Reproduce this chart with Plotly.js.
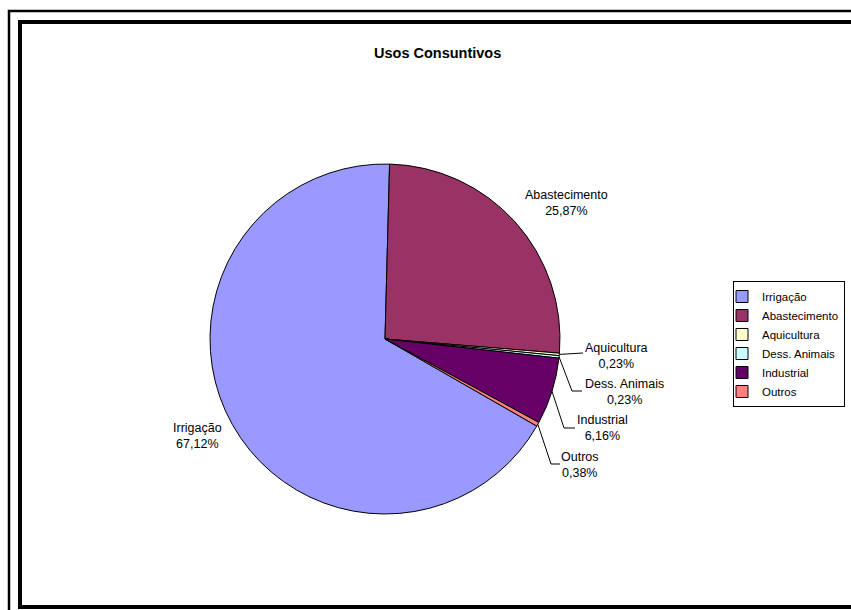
<!DOCTYPE html>
<html>
<head>
<meta charset="utf-8">
<script src="https://cdn.plot.ly/plotly-3.0.1.min.js"></script>
<style>html,body{margin:0;padding:0;background:#fff;overflow:hidden;}#chart{width:851px;height:610px;}</style>
</head>
<body>
<div id="chart"></div>
<script>
// ---- data ----
const categories = ["Irrigação", "Abastecimento", "Aquicultura", "Dess. Animais", "Industrial", "Outros"];
const values = [67.12, 25.87, 0.23, 0.23, 6.16, 0.38];
const colors = ["#9999FF", "#993366", "#FFFFCC", "#CCFFFF", "#660066", "#FF8080"];
const titleText = "Usos Consuntivos";

// ---- layout helpers (pixel -> paper) ----
const W = 851, H = 610;
const px = x => x / W;
const py = y => 1 - y / H;

// pie geometry
const pieLeft = 210, pieRight = 560, pieTop = 164, pieBottom = 514;
const cx = (pieLeft + pieRight) / 2, cy = (pieTop + pieBottom) / 2;
const R = (pieRight - pieLeft) / 2;

const total = values.reduce((a, b) => a + b, 0);
// second slice (Abastecimento) starts slightly right of 12 o'clock
const secondStart = 1.5;
const rotation = (((secondStart - values[0] / total * 360) % 360) + 360) % 360;

// mid-angles for each slice (clockwise from 12 o'clock)
const mids = [];
let acc = rotation;
values.forEach(v => {
  const sweep = v / total * 360;
  mids.push(acc + sweep / 2);
  acc += sweep;
});
const edgePoint = i => {
  const a = mids[i] * Math.PI / 180;
  return [cx + R * Math.sin(a), cy - R * Math.cos(a)];
};

// label layout (text block centres, px) and leader elbows/ends (px), null = no leader
const labelPos = [[197, 436], [566, 203], [616, 356], [624, 392], [602, 428], [580, 465]];
const leaders = [null, null, [[583, 353]], [[572, 391], [582, 391]], [[564, 428], [575, 428]], [[551, 464], [560, 464]]];

const fmt = v => v.toFixed(2).replace('.', ',') + '%';
const FONT = 'Arial, "Liberation Sans", sans-serif';

const annotations = categories.map((c, i) => ({
  x: px(labelPos[i][0]), y: py(labelPos[i][1]), xref: 'paper', yref: 'paper',
  text: c + '<br>' + fmt(values[i]), showarrow: false,
  xanchor: 'center', yanchor: 'middle', align: 'center',
  font: {family: FONT, size: 12.5, color: '#000'}
}));
annotations.push({
  x: px(437), y: py(53), xref: 'paper', yref: 'paper', text: '<b>' + titleText + '</b>',
  showarrow: false, xanchor: 'center', yanchor: 'middle',
  font: {family: FONT, size: 14.5, color: '#000'}
});

const shapes = [];
// frames (open on the right and, for the outer one, at the bottom: they run off the picture)
shapes.push({type: 'path', xref: 'paper', yref: 'paper',
  path: 'M' + px(9) + ',' + py(640) + ' L' + px(9) + ',' + py(11) + ' L' + px(900) + ',' + py(11),
  line: {color: '#000', width: 2.5}, layer: 'below'});
shapes.push({type: 'path', xref: 'paper', yref: 'paper',
  path: 'M' + px(900) + ',' + py(607) + ' L' + px(20) + ',' + py(607) + ' L' + px(20) + ',' + py(22) + ' L' + px(900) + ',' + py(22),
  line: {color: '#000', width: 4}, layer: 'below'});
// leader lines
leaders.forEach((pts, i) => {
  if (!pts) return;
  const p0 = edgePoint(i);
  let path = 'M' + px(p0[0]) + ',' + py(p0[1]);
  pts.forEach(p => { path += ' L' + px(p[0]) + ',' + py(p[1]); });
  shapes.push({type: 'path', xref: 'paper', yref: 'paper', path: path, line: {color: '#000', width: 1}});
});

const trace = {
  type: 'pie',
  labels: categories,
  values: values,
  sort: false,
  direction: 'clockwise',
  rotation: rotation,
  marker: {colors: colors, line: {color: '#000', width: 1}},
  textinfo: 'none',
  hoverinfo: 'label+percent',
  domain: {x: [px(pieLeft), px(pieRight)], y: [py(pieBottom), py(pieTop)]}
};

const layout = {
  width: W, height: H,
  margin: {l: 0, r: 0, t: 0, b: 0, autoexpand: false},
  paper_bgcolor: '#fff',
  showlegend: true,
  legend: {
    x: px(845), y: py(281), xanchor: 'right', yanchor: 'top',
    bordercolor: '#000', borderwidth: 1, bgcolor: '#fff',
    font: {family: FONT, size: 11.5, color: '#000'},
    itemwidth: 30, tracegroupgap: 0, indentation: -12
  },
  annotations: annotations,
  shapes: shapes
};

Plotly.newPlot('chart', [trace], layout, {displayModeBar: false, staticPlot: true});
</script>
</body>
</html>
